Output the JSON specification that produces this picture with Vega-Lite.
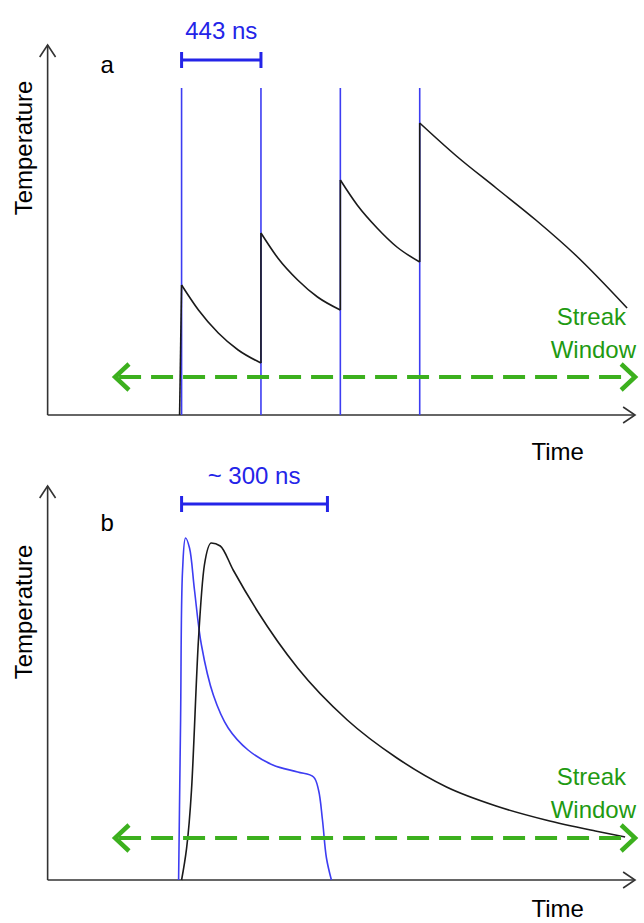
{
  "$schema": "https://vega.github.io/schema/vega-lite/v6.json",
  "width": 644,
  "height": 923,
  "autosize": {"type": "fit", "contains": "padding"},
  "padding": 0,
  "background": "white",
  "config": {"view": {"stroke": null}},
  "datasets": {
    "lines": [
      {"k": "ax", "id": "a1", "o": 1, "x": 48, "y": 415}, {"k": "ax", "id": "a1", "o": 2, "x": 48, "y": 45},
      {"k": "ax", "id": "a2", "o": 1, "x": 40, "y": 57}, {"k": "ax", "id": "a2", "o": 2, "x": 48, "y": 45}, {"k": "ax", "id": "a2", "o": 3, "x": 56, "y": 57},
      {"k": "ax", "id": "a3", "o": 1, "x": 48, "y": 415}, {"k": "ax", "id": "a3", "o": 2, "x": 640, "y": 415},
      {"k": "ax", "id": "a4", "o": 1, "x": 628, "y": 407}, {"k": "ax", "id": "a4", "o": 2, "x": 640, "y": 415}, {"k": "ax", "id": "a4", "o": 3, "x": 628, "y": 423},
      {"k": "ax", "id": "b1", "o": 1, "x": 48, "y": 880}, {"k": "ax", "id": "b1", "o": 2, "x": 48, "y": 486},
      {"k": "ax", "id": "b2", "o": 1, "x": 40, "y": 498}, {"k": "ax", "id": "b2", "o": 2, "x": 48, "y": 486}, {"k": "ax", "id": "b2", "o": 3, "x": 56, "y": 498},
      {"k": "ax", "id": "b3", "o": 1, "x": 48, "y": 880}, {"k": "ax", "id": "b3", "o": 2, "x": 640, "y": 880},
      {"k": "ax", "id": "b4", "o": 1, "x": 628, "y": 872}, {"k": "ax", "id": "b4", "o": 2, "x": 640, "y": 880}, {"k": "ax", "id": "b4", "o": 3, "x": 628, "y": 888},

      {"k": "bv", "id": "v1", "o": 1, "x": 183, "y": 88}, {"k": "bv", "id": "v1", "o": 2, "x": 183, "y": 415},
      {"k": "bv", "id": "v2", "o": 1, "x": 263, "y": 88}, {"k": "bv", "id": "v2", "o": 2, "x": 263, "y": 415},
      {"k": "bv", "id": "v3", "o": 1, "x": 343, "y": 88}, {"k": "bv", "id": "v3", "o": 2, "x": 343, "y": 415},
      {"k": "bv", "id": "v4", "o": 1, "x": 423, "y": 88}, {"k": "bv", "id": "v4", "o": 2, "x": 423, "y": 415},
      {"k": "bl", "id": "pb", "o": 1, "x": 180, "y": 880}, {"k": "bl", "id": "pb", "o": 2, "x": 182, "y": 720},
      {"k": "bl", "id": "pb", "o": 3, "x": 184, "y": 570}, {"k": "bl", "id": "pb", "o": 4, "x": 187, "y": 538},
      {"k": "bl", "id": "pb", "o": 5, "x": 191, "y": 548}, {"k": "bl", "id": "pb", "o": 6, "x": 196, "y": 590},
      {"k": "bl", "id": "pb", "o": 7, "x": 203, "y": 645}, {"k": "bl", "id": "pb", "o": 8, "x": 215, "y": 695},
      {"k": "bl", "id": "pb", "o": 9, "x": 230, "y": 728}, {"k": "bl", "id": "pb", "o": 10, "x": 250, "y": 750},
      {"k": "bl", "id": "pb", "o": 11, "x": 275, "y": 765}, {"k": "bl", "id": "pb", "o": 12, "x": 300, "y": 772},
      {"k": "bl", "id": "pb", "o": 13, "x": 316, "y": 777}, {"k": "bl", "id": "pb", "o": 14, "x": 321, "y": 790},
      {"k": "bl", "id": "pb", "o": 15, "x": 325, "y": 820}, {"k": "bl", "id": "pb", "o": 16, "x": 329, "y": 858},
      {"k": "bl", "id": "pb", "o": 17, "x": 334, "y": 880},

      {"k": "bb", "id": "r1", "o": 1, "x": 183, "y": 60}, {"k": "bb", "id": "r1", "o": 2, "x": 263, "y": 60},
      {"k": "bb", "id": "r2", "o": 1, "x": 183, "y": 52}, {"k": "bb", "id": "r2", "o": 2, "x": 183, "y": 68},
      {"k": "bb", "id": "r3", "o": 1, "x": 263, "y": 52}, {"k": "bb", "id": "r3", "o": 2, "x": 263, "y": 68},
      {"k": "bb", "id": "r4", "o": 1, "x": 183, "y": 504}, {"k": "bb", "id": "r4", "o": 2, "x": 330, "y": 504},
      {"k": "bb", "id": "r5", "o": 1, "x": 183, "y": 496}, {"k": "bb", "id": "r5", "o": 2, "x": 183, "y": 512},
      {"k": "bb", "id": "r6", "o": 1, "x": 330, "y": 496}, {"k": "bb", "id": "r6", "o": 2, "x": 330, "y": 512},

      {"k": "bk", "id": "j1", "o": 1, "x": 181, "y": 415}, {"k": "bk", "id": "j1", "o": 2, "x": 183, "y": 285},
      {"k": "bk", "id": "s1", "o": 1, "x": 183, "y": 285}, {"k": "bk", "id": "s1", "o": 2, "x": 200, "y": 310},
      {"k": "bk", "id": "s1", "o": 3, "x": 220, "y": 333}, {"k": "bk", "id": "s1", "o": 4, "x": 240, "y": 350},
      {"k": "bk", "id": "s1", "o": 5, "x": 263, "y": 363},
      {"k": "bk", "id": "j2", "o": 1, "x": 263, "y": 363}, {"k": "bk", "id": "j2", "o": 2, "x": 263, "y": 233},
      {"k": "bk", "id": "s2", "o": 1, "x": 263, "y": 233}, {"k": "bk", "id": "s2", "o": 2, "x": 280, "y": 258},
      {"k": "bk", "id": "s2", "o": 3, "x": 300, "y": 280}, {"k": "bk", "id": "s2", "o": 4, "x": 320, "y": 297},
      {"k": "bk", "id": "s2", "o": 5, "x": 343, "y": 310},
      {"k": "bk", "id": "j3", "o": 1, "x": 343, "y": 310}, {"k": "bk", "id": "j3", "o": 2, "x": 343, "y": 180},
      {"k": "bk", "id": "s3", "o": 1, "x": 343, "y": 180}, {"k": "bk", "id": "s3", "o": 2, "x": 360, "y": 205},
      {"k": "bk", "id": "s3", "o": 3, "x": 380, "y": 228}, {"k": "bk", "id": "s3", "o": 4, "x": 400, "y": 247},
      {"k": "bk", "id": "s3", "o": 5, "x": 423, "y": 262},
      {"k": "bk", "id": "j4", "o": 1, "x": 423, "y": 262}, {"k": "bk", "id": "j4", "o": 2, "x": 423, "y": 123},
      {"k": "bk", "id": "s4", "o": 1, "x": 423, "y": 123}, {"k": "bk", "id": "s4", "o": 2, "x": 460, "y": 156},
      {"k": "bk", "id": "s4", "o": 3, "x": 500, "y": 188}, {"k": "bk", "id": "s4", "o": 4, "x": 540, "y": 220},
      {"k": "bk", "id": "s4", "o": 5, "x": 580, "y": 255}, {"k": "bk", "id": "s4", "o": 6, "x": 632, "y": 308},
      {"k": "bk", "id": "kb", "o": 1, "x": 183, "y": 880}, {"k": "bk", "id": "kb", "o": 2, "x": 193, "y": 790},
      {"k": "bk", "id": "kb", "o": 3, "x": 200, "y": 640}, {"k": "bk", "id": "kb", "o": 4, "x": 206, "y": 565},
      {"k": "bk", "id": "kb", "o": 5, "x": 213, "y": 543}, {"k": "bk", "id": "kb", "o": 6, "x": 222, "y": 546},
      {"k": "bk", "id": "kb", "o": 7, "x": 235, "y": 570}, {"k": "bk", "id": "kb", "o": 8, "x": 260, "y": 612},
      {"k": "bk", "id": "kb", "o": 9, "x": 300, "y": 668}, {"k": "bk", "id": "kb", "o": 10, "x": 350, "y": 720},
      {"k": "bk", "id": "kb", "o": 11, "x": 400, "y": 758}, {"k": "bk", "id": "kb", "o": 12, "x": 450, "y": 787},
      {"k": "bk", "id": "kb", "o": 13, "x": 500, "y": 806}, {"k": "bk", "id": "kb", "o": 14, "x": 550, "y": 820},
      {"k": "bk", "id": "kb", "o": 15, "x": 600, "y": 831}, {"k": "bk", "id": "kb", "o": 16, "x": 630, "y": 837},

      {"k": "gd", "id": "d1", "o": 1, "x": 120, "y": 377}, {"k": "gd", "id": "d1", "o": 2, "x": 636, "y": 377},
      {"k": "gd", "id": "d2", "o": 1, "x": 120, "y": 838}, {"k": "gd", "id": "d2", "o": 2, "x": 636, "y": 838},
      {"k": "gs", "id": "h1", "o": 1, "x": 130, "y": 364}, {"k": "gs", "id": "h1", "o": 2, "x": 116, "y": 377}, {"k": "gs", "id": "h1", "o": 3, "x": 130, "y": 390},
      {"k": "gs", "id": "h2", "o": 1, "x": 626, "y": 364}, {"k": "gs", "id": "h2", "o": 2, "x": 640, "y": 377}, {"k": "gs", "id": "h2", "o": 3, "x": 626, "y": 390},
      {"k": "gs", "id": "h3", "o": 1, "x": 130, "y": 825}, {"k": "gs", "id": "h3", "o": 2, "x": 116, "y": 838}, {"k": "gs", "id": "h3", "o": 3, "x": 130, "y": 851},
      {"k": "gs", "id": "h4", "o": 1, "x": 626, "y": 825}, {"k": "gs", "id": "h4", "o": 2, "x": 640, "y": 838}, {"k": "gs", "id": "h4", "o": 3, "x": 626, "y": 851}
    ],
    "labels": [
      {"k": "k", "t": "Temperature", "x": 25, "y": 148, "r": 1},
      {"k": "k", "t": "Temperature", "x": 25, "y": 612, "r": 1},
      {"k": "k", "t": "a", "x": 108, "y": 66, "r": 0},
      {"k": "k", "t": "b", "x": 108, "y": 524, "r": 0},
      {"k": "k", "t": "Time", "x": 562, "y": 453, "r": 0},
      {"k": "k", "t": "Time", "x": 562, "y": 910, "r": 0},
      {"k": "b", "t": "443 ns", "x": 223, "y": 32, "r": 0},
      {"k": "b", "t": "~ 300 ns", "x": 256, "y": 477, "r": 0},
      {"k": "g", "t": "Streak", "x": 596, "y": 318, "r": 0},
      {"k": "g", "t": "Window", "x": 598, "y": 351, "r": 0},
      {"k": "g", "t": "Streak", "x": 596, "y": 778, "r": 0},
      {"k": "g", "t": "Window", "x": 598, "y": 811, "r": 0}
    ]
  },
  "encoding": {
    "x": {"field": "x", "type": "quantitative", "scale": {"domain": [0, 644], "nice": false, "zero": false}, "axis": null},
    "y": {"field": "y", "type": "quantitative", "scale": {"domain": [923, 0], "nice": false, "zero": false}, "axis": null}
  },
  "layer": [
    {
      "data": {"name": "lines"},
      "transform": [{"filter": "datum.k == 'ax'"}],
      "mark": {"type": "line", "color": "#333333", "strokeWidth": 1.6},
      "encoding": {"detail": {"field": "id"}, "order": {"field": "o"}}
    },
    {
      "data": {"name": "lines"},
      "transform": [{"filter": "datum.k == 'bv'"}],
      "mark": {"type": "line", "color": "#3d3df2", "strokeWidth": 1.6},
      "encoding": {"detail": {"field": "id"}, "order": {"field": "o"}}
    },
    {
      "data": {"name": "lines"},
      "transform": [{"filter": "datum.k == 'bl'"}],
      "mark": {"type": "line", "color": "#3d3df2", "strokeWidth": 1.6, "interpolate": "catmull-rom"},
      "encoding": {"detail": {"field": "id"}, "order": {"field": "o"}}
    },
    {
      "data": {"name": "lines"},
      "transform": [{"filter": "datum.k == 'bb'"}],
      "mark": {"type": "line", "color": "#2424e8", "strokeWidth": 3},
      "encoding": {"detail": {"field": "id"}, "order": {"field": "o"}}
    },
    {
      "data": {"name": "lines"},
      "transform": [{"filter": "datum.k == 'bk'"}],
      "mark": {"type": "line", "color": "#1a1a1a", "strokeWidth": 1.6, "interpolate": "monotone"},
      "encoding": {"detail": {"field": "id"}, "order": {"field": "o"}}
    },
    {
      "data": {"name": "lines"},
      "transform": [{"filter": "datum.k == 'gd'"}],
      "mark": {"type": "line", "color": "#3cb01e", "strokeWidth": 4, "strokeDash": [22, 10]},
      "encoding": {"detail": {"field": "id"}, "order": {"field": "o"}}
    },
    {
      "data": {"name": "lines"},
      "transform": [{"filter": "datum.k == 'gs'"}],
      "mark": {"type": "line", "color": "#3cb01e", "strokeWidth": 4.5},
      "encoding": {"detail": {"field": "id"}, "order": {"field": "o"}}
    },
    {
      "data": {"name": "labels"},
      "transform": [{"filter": "datum.r == 1"}],
      "mark": {"type": "text", "font": "Liberation Sans", "fontSize": 24, "angle": 270, "align": "center", "baseline": "middle", "color": "black"},
      "encoding": {"text": {"field": "t"}}
    },
    {
      "data": {"name": "labels"},
      "transform": [{"filter": "datum.r == 0"}],
      "mark": {"type": "text", "font": "Liberation Sans", "fontSize": 24, "align": "center", "baseline": "middle"},
      "encoding": {
        "text": {"field": "t"},
        "color": {"field": "k", "type": "nominal", "scale": {"domain": ["k", "b", "g"], "range": ["#000000", "#2424e8", "#1f9a12"]}, "legend": null}
      }
    }
  ]
}
